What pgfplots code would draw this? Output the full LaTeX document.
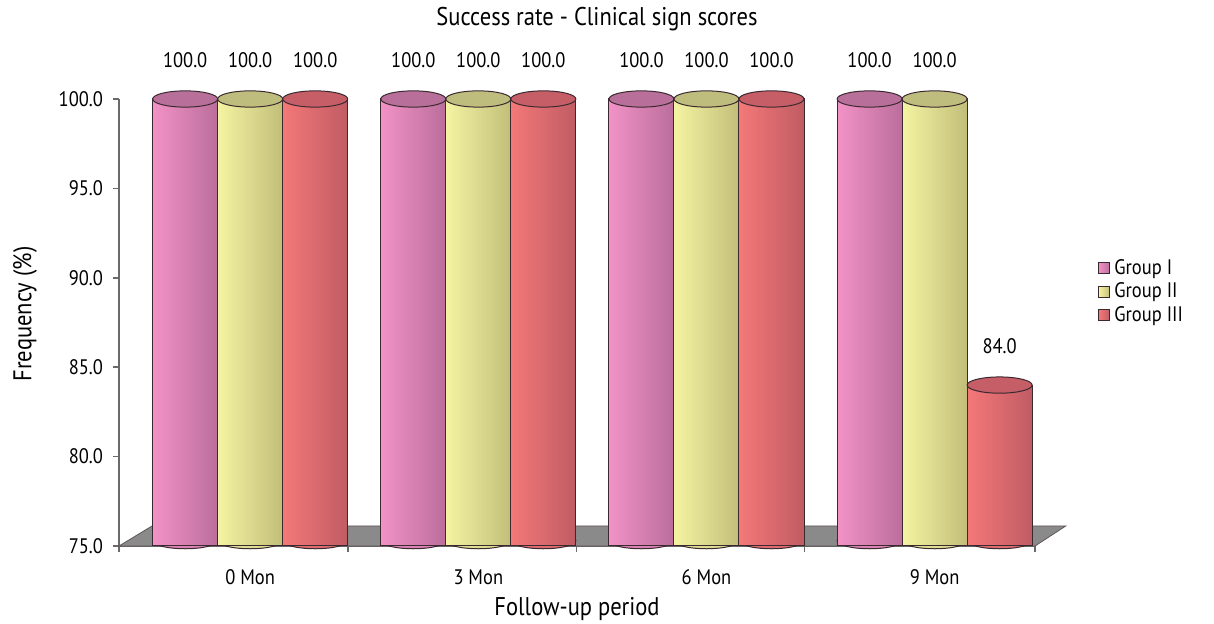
\documentclass[border=0pt]{standalone}
\usepackage{fontspec}
\setmainfont{PT Sans}[FakeStretch=0.88]
\usepackage{pgfplots}
\pgfplotsset{compat=1.18}

\definecolor{pinkL}{HTML}{F292C6}
\definecolor{pinkR}{HTML}{BA6E9C}
\definecolor{pinkT}{HTML}{B8709A}
\definecolor{yelL}{HTML}{F4F4A2}
\definecolor{yelR}{HTML}{C2BE7A}
\definecolor{yelT}{HTML}{BFBD7E}
\definecolor{redL}{HTML}{F47878}
\definecolor{redR}{HTML}{C05C64}
\definecolor{redT}{HTML}{C65E68}
\definecolor{edge}{HTML}{3A2A30}
\definecolor{floorgray}{HTML}{8A8A8A}
\definecolor{axisgray}{HTML}{6A6A6A}

\pgfplotsset{
  cyl/.style={ybar, bar width=0.285, bar shift=0pt, draw=edge, line width=0.5pt,
    legend image code/.code={\draw[##1, draw=edge, line width=0.5pt] (0pt,-2.8pt) rectangle (5.6pt,2.8pt);}},
  pinkbar/.style={cyl, left color=pinkL, right color=pinkR},
  yelbar/.style={cyl, left color=yelL, right color=yelR},
  redbar/.style={cyl, left color=redL, right color=redR},
  cyltop/.style={only marks, mark=*, mark size=16.25pt,
    mark options={yscale=0.25, fill=#1, draw=edge, line width=0.5pt}, forget plot},
  cylbot/.style={only marks, mark=*, mark size=16.25pt,
    mark options={yscale=0.25, fill=#1, draw=edge, line width=0.5pt}, forget plot},
  vlabels/.style={nodes near coords={\pgfmathprintnumber[fixed,fixed zerofill,precision=1,assume math mode=true]{\pgfplotspointmeta}}, point meta=y},
}

\begin{document}
\begin{tikzpicture}
\useasboundingbox (-59.5pt,-39pt) rectangle (547.5pt,273pt);
\begin{axis}[
  scale only axis,
  width=458pt, height=223.5pt,
  clip mode=individual,
  xmin=-0.575, xmax=3.44,
  ymin=75, ymax=100,
  axis x line*=bottom, axis y line*=left,
  axis line style={axisgray, line width=0.9pt},
  tick style={axisgray, line width=0.8pt},
  tick align=outside,
  font=\fontsize{10.5}{12.6}\selectfont,
  ytick={75,80,...,100},
  major tick length=3pt,
  yticklabel style={xshift=-1.5pt, /pgf/number format/.cd, fixed, fixed zerofill, precision=1, assume math mode=true},
  xtick={-0.575,0.43,1.43,2.43,3.44},
  xticklabels={},
  extra x ticks={0,1,2,3},
  extra x tick labels={0 Mon,3 Mon,6 Mon,9 Mon},
  extra x tick style={major tick length=0pt},
  xticklabel style={anchor=center, yshift=-15.5pt},
  title={Success rate - Clinical sign scores},
  title style={at={(axis description cs:0.5,1)}, anchor=center, yshift=34pt, xshift=10pt,
    font=\fontsize{12.8}{15}\selectfont},
  xlabel={Follow-up period},
  xlabel style={at={(axis description cs:0.5,0)}, anchor=center, yshift=-31.5pt,
    font=\fontsize{12.8}{15}\selectfont},
  ylabel={Frequency (\%)},
  ylabel style={at={(axis description cs:-0.1026,0.519)}, anchor=center,
    font=\fontsize{12.8}{15}\selectfont},
  legend style={at={(axis description cs:1.062,0.66)}, anchor=north west, draw=none, fill=none,
    font=\fontsize{10.5}{12.6}\selectfont, row sep=-1.3pt},
  legend cell align=left,
]
% floor
\fill[floorgray, draw=edge!80, line width=0.4pt]
  (axis cs:-0.575,75) -- (axis cs:3.44,75) -- (axis cs:3.575,76.12) -- (axis cs:-0.43,76.12) -- cycle;

% bottom ellipses
\addplot[cylbot=pinkL!55!pinkR] coordinates {(-0.285,75.3) (0.715,75.3) (1.715,75.3) (2.715,75.3)};
\addplot[cylbot=yelL!55!yelR]   coordinates {(0,75.3) (1,75.3) (2,75.3) (3,75.3)};
\addplot[cylbot=redL!55!redR]   coordinates {(0.285,75.3) (1.285,75.3) (2.285,75.3) (3.285,75.3)};

% bars (one plot per bar so that each cylinder gets its own shading)
\addplot[pinkbar] coordinates {(-0.285,100)};
\addlegendentry{Group I}
\addplot[yelbar] coordinates {(0,100)};
\addlegendentry{Group II}
\addplot[redbar] coordinates {(0.285,100)};
\addlegendentry{Group III}
\addplot[pinkbar, forget plot] coordinates {(0.715,100)};
\addplot[yelbar, forget plot]  coordinates {(1,100)};
\addplot[redbar, forget plot]  coordinates {(1.285,100)};
\addplot[pinkbar, forget plot] coordinates {(1.715,100)};
\addplot[yelbar, forget plot]  coordinates {(2,100)};
\addplot[redbar, forget plot]  coordinates {(2.285,100)};
\addplot[pinkbar, forget plot] coordinates {(2.715,100)};
\addplot[yelbar, forget plot]  coordinates {(3,100)};
\addplot[redbar, forget plot]  coordinates {(3.285,84)};

% tops with value labels
\pgfplotsset{every node near coord/.style={anchor=south, inner sep=0pt, yshift=15.5pt, text=black,
  font=\fontsize{10.5}{12.6}\selectfont}}
\addplot[cyltop=pinkT, vlabels] coordinates {(-0.285,100) (0.715,100) (1.715,100) (2.715,100)};
\addplot[cyltop=yelT, vlabels]  coordinates {(0,100) (1,100) (2,100) (3,100)};
\addplot[cyltop=redT, vlabels]  coordinates {(0.285,100) (1.285,100) (2.285,100) (3.285,84)};
\end{axis}
\end{tikzpicture}
\end{document}
